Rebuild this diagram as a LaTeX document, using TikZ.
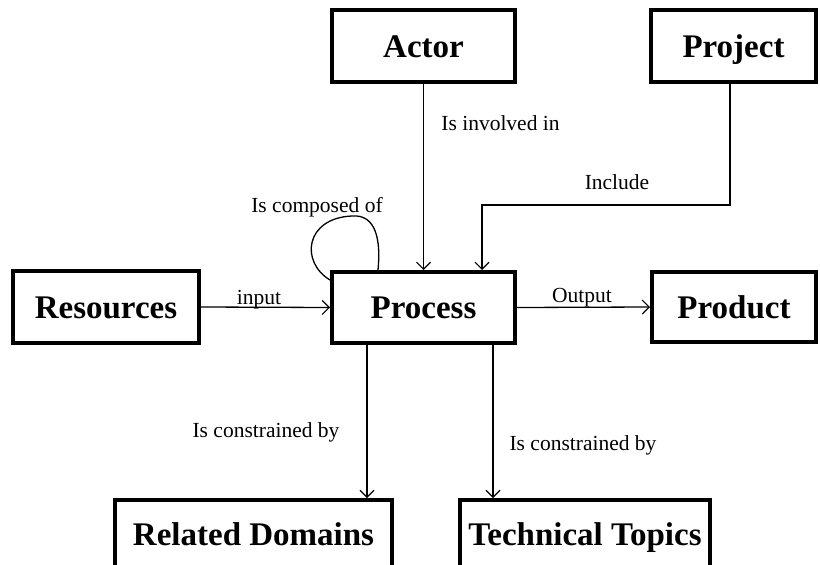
\documentclass[tikz,border=0pt]{standalone}
\usepackage{fontspec}
\setmainfont{Liberation Serif}
\usetikzlibrary{arrows.meta}
\begin{document}
\begin{tikzpicture}[x=1pt,y=-1pt,
  box/.style={draw=black,line width=4pt,rectangle,inner sep=0pt,
    text height=22pt,text depth=0pt,
    font=\fontsize{33}{36}\selectfont\bfseries},
  conn/.style={line width=1.3pt,-{Straight Barb[length=7pt,width=14pt,line width=1.1pt]}},
  plain/.style={line width=1.3pt},
  lbl/.style={inner sep=0pt,text height=14pt,text depth=0pt,font=\fontsize{21.5}{24}\selectfont}]
\useasboundingbox[fill=white] (0,0) rectangle (820,565);
\node[box,minimum width=183pt,minimum height=72pt] (Actor) at (423.5,46) {Actor};
\node[box,minimum width=165pt,minimum height=72pt] (Project) at (733.5,46) {Project};
\node[box,minimum width=186pt,minimum height=72pt] (Resources) at (106,307) {Resources};
\node[box,minimum width=183pt,minimum height=71pt] (Process) at (423.5,307.5) {Process};
\node[box,minimum width=164pt,minimum height=70pt] (Product) at (734,307) {Product};
\node[box,minimum width=277pt,minimum height=68pt] (RD) at (253.5,534) {Related Domains};
\node[box,minimum width=250pt,minimum height=68pt] (TT) at (585,534) {Technical Topics};
% connectors
\draw[conn] (Actor.south) -- (Actor.south |- Process.north);
\coordinate (incl) at ([xshift=58.5pt]Process.north |- 0,205);
\draw[conn] ([xshift=-3.5pt]Project.south) |- (incl) -- (incl |- Process.north);
\draw[conn] (Resources.east) -- (Process.west);
\draw[conn] (Process.east) -- (Product.west);
\draw[conn] ([xshift=-56.5pt]Process.south) -- ([xshift=-56.5pt]Process.south |- RD.north);
\draw[conn] ([xshift=69.5pt]Process.south) -- ([xshift=69.5pt]Process.south |- TT.north);
\draw[plain] ([yshift=-10pt]Process.north west) .. controls (300,262) and (305,218) .. (352,216)
  .. controls (376,214) and (381,240) .. ([xshift=48pt]Process.north west);
% labels
\node[lbl] (l1) at (500.5,123) {Is involved in};
\node[lbl] (l2) at (617,182) {Include};
\node[lbl] (l3) at (317,205) {Is composed of};
\node[lbl] (l4) at (259,297) {input};
\node[lbl] (l5) at (582,295) {Output};
\node[lbl] (l6) at (266,430) {Is constrained by};
\node[lbl] (l7) at (583,443) {Is constrained by};
\end{tikzpicture}
\end{document}
